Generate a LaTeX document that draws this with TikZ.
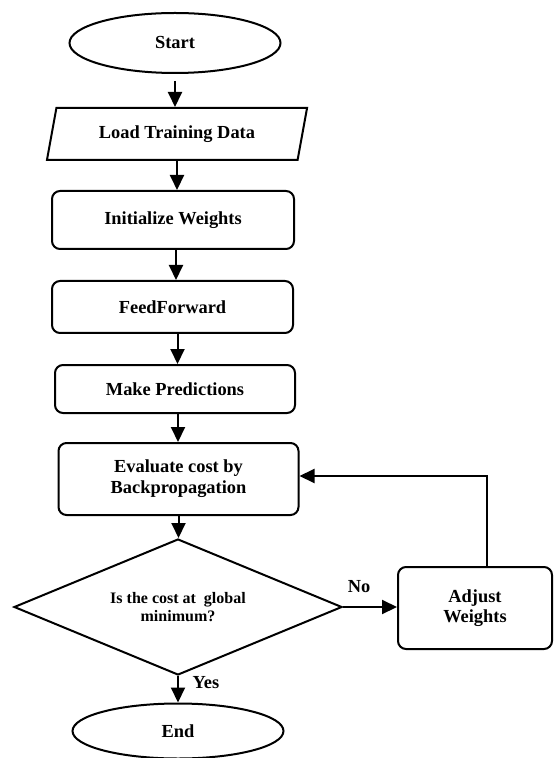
\documentclass[tikz,border=0pt]{standalone}
\usepackage{fontspec}
\setmainfont{Liberation Serif}
\usetikzlibrary{shapes.geometric,arrows.meta}

\tikzset{
  flowbox/.style={draw, rounded corners=4pt, align=center, inner sep=0pt},
  terminal/.style={draw, ellipse, inner sep=0pt, minimum width=105.5pt},
  flowarrow/.style={-{Triangle[length=7.5pt,width=7pt]}},
}

\begin{document}
\begin{tikzpicture}[x=0.5pt,y=-0.5pt,line width=1pt,font=\fontsize{9.2}{10.5}\selectfont\bfseries]
  \useasboundingbox (0,0) rectangle (553,758);

  % Draw the steps
  \node[terminal, minimum height=30pt] (start) at (175,43) {Start};
  \node[draw, trapezium, trapezium left angle=70, trapezium right angle=110,
        trapezium stretches=true, minimum width=131pt, minimum height=26pt,
        inner sep=0pt] (load) at (177,134) {Load Training Data};
  \node[flowbox, minimum width=121pt, minimum height=29pt] (init) at (173,220) {Initialize Weights};
  \node[flowbox, minimum width=120.5pt, minimum height=26pt] (feed) at (172.5,307) {FeedForward};
  \node[flowbox, minimum width=120pt, minimum height=24pt] (pred) at (175,389) {Make Predictions};
  \node[flowbox, minimum width=120pt, minimum height=36pt] (eval) at (178.5,479) {Evaluate cost by\\Backpropagation};

  % Draw the decision
  \node[draw, diamond, aspect=2.4, inner sep=0pt, minimum width=164pt, minimum height=68pt,
        align=center, font=\fontsize{8}{9}\selectfont\bfseries] (check) at (178,607)
        {Is the cost at\ \ global\\minimum?};
  \node[flowbox, minimum width=77pt, minimum height=41pt, font=\fontsize{9.2}{10}\selectfont\bfseries] (adjust) at (475,608) {Adjust\\Weights};
  \node[terminal, minimum height=27.5pt] (end) at (178,731) {End};

  % Connect the steps
  \draw[flowarrow] ([yshift=-3.5pt]start.south) -- (start.south |- load.north);
  \draw[flowarrow] (load.south) -- (load.south |- init.north);
  \draw[flowarrow] ([xshift=1.5pt]init.south) -- ([xshift=1.5pt]init.south |- feed.north);
  \draw[flowarrow] ([xshift=2.5pt]feed.south) -- ([xshift=2.5pt]feed.south |- pred.north);
  \draw[flowarrow] ([xshift=1.5pt]pred.south) -- ([xshift=1.5pt]pred.south |- eval.north);
  \draw[flowarrow] (eval.south) -- (eval.south |- check.north);
  \draw[flowarrow] (check.south) -- (check.south |- end.north);
  \draw[flowarrow] (check.east) -- (check.east -| adjust.west);
  \draw[flowarrow] ([xshift=6pt]adjust.north) |- ([yshift=1.5pt]eval.east);

  % Label the branches
  \node (no) at (359,587) {No};
  \node (yes) at (206,683) {Yes};
\end{tikzpicture}
\end{document}
